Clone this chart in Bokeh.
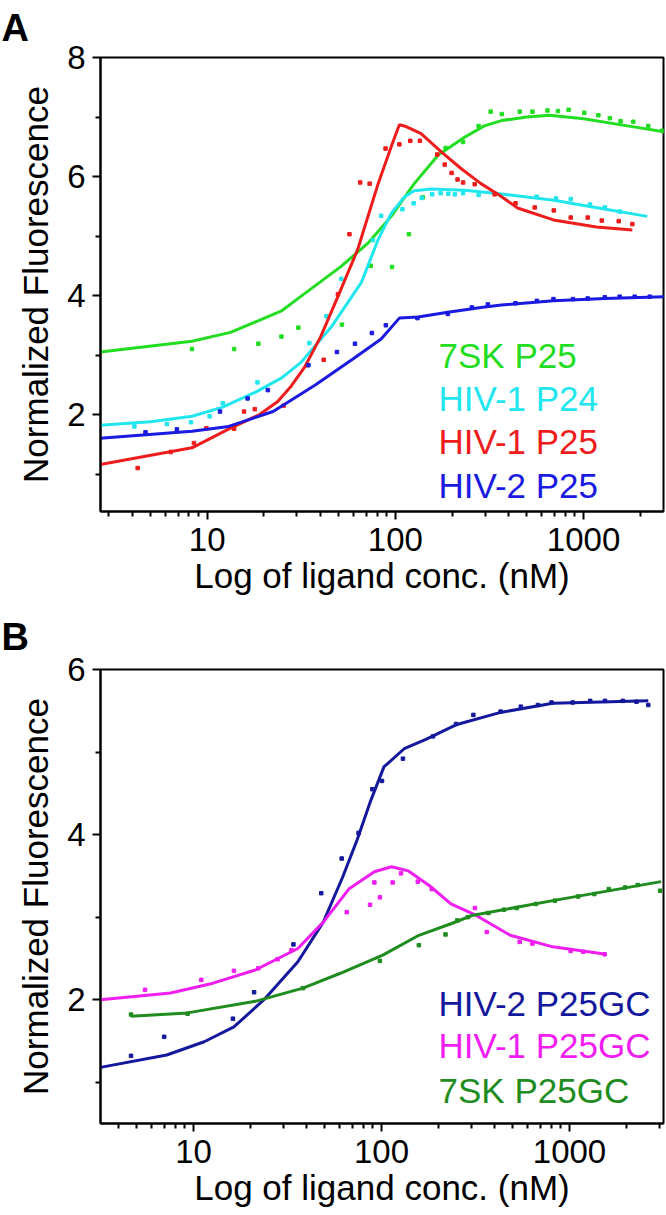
from bokeh.plotting import figure
from bokeh.models import Label, FixedTicker, Range1d, BasicTickFormatter
from bokeh.layouts import column
from bokeh.embed import file_html
from bokeh.resources import INLINE

FONT = "Liberation Sans"

# ---------------- Panel A data ----------------
a_7sk_x = [8.3, 13.9, 18.7, 24.8, 30.5, 52, 74, 96, 118, 140, 185, 229, 277, 321, 368, 458, 535, 643, 731, 833, 1009, 1199, 1380, 1573, 1838, 2206, 2619]
a_7sk_y = [3.10, 3.10, 3.19, 3.31, 3.46, 3.51, 4.50, 4.48, 5.03, 5.65, 6.48, 6.58, 6.85, 7.09, 7.05, 7.09, 7.09, 7.11, 7.10, 7.12, 7.07, 7.03, 6.98, 6.93, 6.92, 6.85, 6.77]
a_7sk_fit_x = [2.7, 8.3, 13.3, 24.8, 31.6, 51.5, 71.5, 95, 126, 169, 233, 297, 366, 500, 659, 1000, 1500, 2700]
a_7sk_fit_y = [3.05, 3.23, 3.38, 3.74, 3.99, 4.49, 4.88, 5.33, 5.88, 6.36, 6.66, 6.85, 6.94, 7.00, 7.03, 6.97, 6.88, 6.75]

a_p24_x = [4.1, 6.1, 8.2, 10.3, 12.1, 18.5, 34.9, 43, 51.6, 76, 84, 109, 125, 138, 157, 174, 191, 207, 229, 277, 335, 563, 713, 855, 1082, 1297, 1556]
a_p24_y = [1.80, 1.84, 1.87, 1.97, 2.19, 2.54, 3.20, 3.65, 4.28, 4.93, 5.34, 5.45, 5.55, 5.64, 5.70, 5.72, 5.71, 5.70, 5.72, 5.69, 5.72, 5.66, 5.63, 5.62, 5.53, 5.48, 5.41]
a_p24_fit_x = [2.7, 5, 8.3, 12, 18.2, 25, 31.6, 45.6, 66, 81, 95, 112, 126, 155, 233, 337, 695, 1200, 2180]
a_p24_fit_y = [1.82, 1.88, 1.97, 2.12, 2.38, 2.62, 2.88, 3.47, 4.22, 4.94, 5.38, 5.66, 5.76, 5.79, 5.77, 5.72, 5.60, 5.47, 5.33]

a_p25_x = [4.27, 6.4, 8.5, 9.9, 13.9, 15.7, 17.9, 25.5, 34, 41.6, 49.5, 57, 65, 73, 88.7, 105, 120, 135, 167, 183, 199, 214, 229, 264, 337, 435, 550, 695, 855, 1052, 1250, 1538, 1817]
a_p25_y = [1.10, 1.37, 1.52, 1.77, 1.76, 2.05, 2.09, 2.15, 2.83, 2.92, 4.02, 5.03, 5.90, 5.88, 6.47, 6.54, 6.60, 6.60, 6.37, 6.20, 6.06, 5.95, 5.90, 5.87, 5.70, 5.55, 5.48, 5.43, 5.31, 5.31, 5.26, 5.25, 5.20]
a_p25_fit_x = [2.7, 8.3, 13.3, 19, 23.7, 28, 33, 40, 49.6, 63, 81, 95, 105, 114, 137, 176, 224, 285, 356, 446, 692, 1170, 1817]
a_p25_fit_y = [1.16, 1.44, 1.77, 2.00, 2.22, 2.48, 2.80, 3.30, 3.99, 4.77, 5.88, 6.50, 6.87, 6.84, 6.72, 6.41, 6.13, 5.88, 5.69, 5.47, 5.27, 5.15, 5.10]

a_h2_x = [4.7, 6.9, 11.7, 16.4, 21, 34.5, 48.9, 61, 75, 89, 131, 190, 255, 310, 435, 565, 692, 878, 1052, 1297, 1556, 1870, 2250]
a_h2_y = [1.70, 1.75, 2.05, 2.27, 2.41, 2.83, 3.05, 3.19, 3.37, 3.50, 3.62, 3.69, 3.80, 3.85, 3.87, 3.91, 3.94, 3.94, 3.95, 3.97, 3.98, 3.98, 3.98]
a_h2_fit_x = [2.7, 8.3, 13, 22.4, 37.7, 60, 84, 105, 132, 190, 285, 366, 692, 1300, 2700]
a_h2_fit_y = [1.60, 1.72, 1.80, 2.05, 2.50, 2.94, 3.27, 3.62, 3.64, 3.72, 3.80, 3.84, 3.91, 3.95, 3.98]

a_names = ["7SK P25", "HIV-1 P24", "HIV-1 P25", "HIV-2 P25"]
a_colors = ["#22DD22", "#22E6EE", "#EE1C1C", "#1A1AE0"]

# ---------------- Panel B data ----------------
b_h2_x = [4.65, 6.98, 16.2, 21, 34, 47.8, 61.4, 75.5, 89.3, 100.6, 130, 188, 249, 308, 430, 551, 679, 802, 1040, 1288, 1545, 1921, 2272, 2624]
b_h2_y = [1.32, 1.55, 1.77, 2.09, 2.67, 3.29, 3.71, 4.02, 4.55, 4.65, 4.92, 5.19, 5.34, 5.45, 5.49, 5.55, 5.57, 5.60, 5.60, 5.62, 5.62, 5.62, 5.61, 5.57]
b_h2_fit_x = [3.2, 7.2, 11.4, 16.4, 23.7, 35.9, 49, 62, 74.3, 86.9, 103, 132, 171, 249, 430, 815, 2624]
b_h2_fit_y = [1.18, 1.33, 1.49, 1.67, 2.00, 2.46, 2.94, 3.48, 3.94, 4.39, 4.82, 5.04, 5.15, 5.33, 5.48, 5.59, 5.62]

b_h1_x = [5.52, 11, 16.4, 22.1, 28, 33.2, 65.3, 86.9, 91.6, 98, 114.6, 127, 156, 185, 314, 363, 543, 635, 1014, 1183, 1538]
b_h1_y = [2.12, 2.24, 2.35, 2.38, 2.49, 2.60, 3.06, 3.15, 3.42, 3.24, 3.42, 3.53, 3.43, 3.34, 3.11, 2.82, 2.70, 2.68, 2.59, 2.58, 2.55]
b_h1_fit_x = [3.2, 7.55, 12.7, 21.3, 35.9, 49, 67, 91.6, 113, 139, 180, 234, 319, 484, 815, 1563]
b_h1_fit_y = [2.00, 2.08, 2.20, 2.36, 2.62, 2.94, 3.34, 3.55, 3.61, 3.56, 3.38, 3.16, 3.02, 2.78, 2.64, 2.55]

b_7sk_x = [4.65, 9.3, 38.2, 98, 158, 219, 253, 288, 370, 448, 523, 662, 836, 1112, 1355, 1618, 1973, 2306, 3034]
b_7sk_y = [1.82, 1.83, 2.14, 2.47, 2.66, 2.79, 2.96, 3.00, 3.05, 3.09, 3.11, 3.16, 3.20, 3.25, 3.28, 3.34, 3.36, 3.39, 3.32]
b_7sk_fit_x = [4.65, 9.3, 21.3, 38.2, 60.4, 101.6, 158, 234, 303, 815, 3070]
b_7sk_fit_y = [1.80, 1.84, 1.98, 2.14, 2.32, 2.54, 2.78, 2.92, 3.02, 3.20, 3.43]

b_names = ["HIV-2 P25GC", "HIV-1 P25GC", "7SK P25GC"]
b_colors = ["#14189C", "#F01EF0", "#1E8C1E"]

# ---------------- Axes ----------------
x_ticks = [10, 100, 1000]
x_tick_labels = ["10", "100", "1000"]
x_minor = [3, 4, 5, 6, 7, 8, 9, 20, 30, 40, 50, 60, 70, 80, 90,
           200, 300, 400, 500, 600, 700, 800, 900, 2000, 3000]
a_y_ticks = [2, 4, 6, 8]
a_y_minor = [1, 3, 5, 7]
b_y_ticks = [2, 4, 6]
b_y_minor = [1, 3, 5]
x_label = "Log of ligand conc. (nM)"
y_label = "Normalized Fluorescence"


def make_panel(height, top, bottom, title_standoff, xr, yr, yt, ym, letter,
               series, names, colors, legend_y):
    p = figure(width=666, height=height, x_axis_type="log",
               x_range=Range1d(*xr), y_range=Range1d(*yr),
               output_backend="svg", toolbar_location=None,
               min_border_left=100, min_border_right=3,
               min_border_top=top, min_border_bottom=bottom)
    p.background_fill_color = "white"
    p.border_fill_color = "white"
    p.grid.visible = False
    p.outline_line_color = "black"
    p.outline_line_width = 2
    p.outline_line_alpha = 1.0

    p.title.text = letter
    p.title.align = "left"
    p.title.vertical_align = "top"
    p.title.offset = -99
    p.title.standoff = title_standoff
    p.title.text_font = FONT
    p.title.text_font_size = "38px"
    p.title.text_font_style = "bold"
    p.title.text_color = "black"

    p.xaxis.ticker = FixedTicker(ticks=x_ticks, minor_ticks=x_minor)
    p.xaxis.formatter = BasicTickFormatter()
    p.xaxis.major_label_overrides = {t: l for t, l in zip(x_ticks, x_tick_labels)}
    p.yaxis.ticker = FixedTicker(ticks=yt, minor_ticks=ym)
    for ax in (p.xaxis[0], p.yaxis[0]):
        ax.axis_line_width = 2
        ax.axis_line_color = "black"
        ax.major_tick_line_width = 2
        ax.minor_tick_line_width = 2
        ax.major_tick_out = 8
        ax.major_tick_in = 0
        ax.minor_tick_out = 5
        ax.minor_tick_in = 0
        ax.major_label_text_font = FONT
        ax.major_label_text_font_size = "33px"
        ax.major_label_text_color = "black"
        ax.axis_label_text_font = FONT
        ax.axis_label_text_font_size = "35px"
        ax.axis_label_text_font_style = "normal"
        ax.axis_label_text_color = "black"
    p.xaxis.axis_label = x_label
    p.yaxis.axis_label = y_label
    p.xaxis.major_label_standoff = 8
    p.xaxis.axis_label_standoff = 2
    p.yaxis.major_label_standoff = 7
    p.yaxis.axis_label_standoff = 9

    for (dx, dy, fx, fy), c in zip(series, colors):
        p.line(fx, fy, line_color=c, line_width=3)
        p.scatter(dx, dy, marker="square", size=3.5, fill_color=c, line_color=c)

    for name, c, ly in zip(names, colors, legend_y):
        p.add_layout(Label(x=338, y=ly, x_units="screen", y_units="screen",
                           text=name, text_color=c, text_font=FONT,
                           text_font_size="35px", text_baseline="alphabetic"))
    return p


pA = make_panel(606, 53, 95, 13, (2.71, 2660), (0.37, 8), a_y_ticks, a_y_minor, "A",
                [(a_7sk_x, a_7sk_y, a_7sk_fit_x, a_7sk_fit_y),
                 (a_p24_x, a_p24_y, a_p24_fit_x, a_p24_fit_y),
                 (a_p25_x, a_p25_y, a_p25_fit_x, a_p25_fit_y),
                 (a_h2_x, a_h2_y, a_h2_fit_x, a_h2_fit_y)],
                a_names, a_colors, [156, 113, 70, 26])

pB = make_panel(609, 60, 92, 19, (3.2, 3162), (0.5, 6), b_y_ticks, b_y_minor, "B",
                [(b_h2_x, b_h2_y, b_h2_fit_x, b_h2_fit_y),
                 (b_h1_x, b_h1_y, b_h1_fit_x, b_h1_fit_y),
                 (b_7sk_x, b_7sk_y, b_7sk_fit_x, b_7sk_fit_y)],
                b_names, b_colors, [120, 78, 33])

layout = column(pA, pB, spacing=0)
open("out.html", "w").write(file_html(layout, INLINE))
